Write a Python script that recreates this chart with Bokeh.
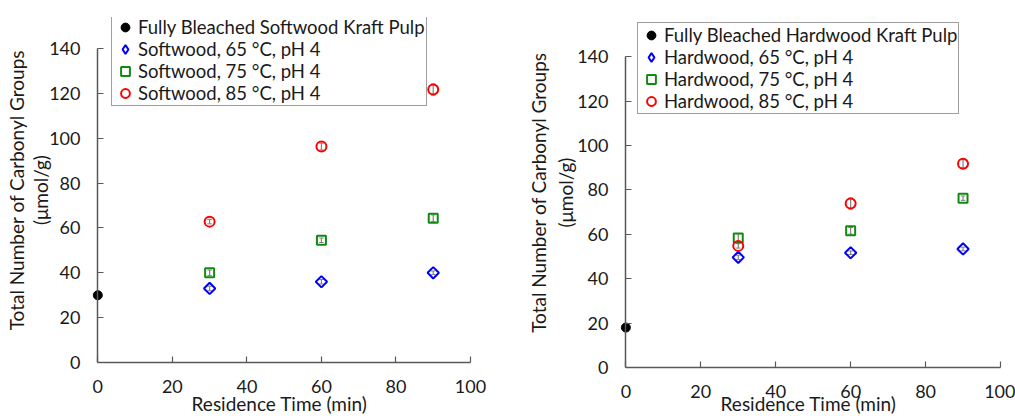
from bokeh.plotting import figure
from bokeh.models import (Range1d, FixedTicker, Legend, LegendItem, ColumnDataSource,
                          LinearAxis)
from bokeh.layouts import row
from bokeh.embed import file_html
from bokeh.resources import INLINE
import math

# ---- data ----
times = [30, 60, 90]
xticks = [0, 20, 40, 60, 80, 100]
yticks = [0, 20, 40, 60, 80, 100, 120, 140]

sw_base = 30
sw_65 = [33, 36, 40]
sw_75 = [40, 54.5, 64.3]
sw_85 = [62.8, 96.3, 121.7]
sw_65_err = [1.0, 1.0, 0.8]
sw_75_err = [1.2, 1.0, 1.5]
sw_85_err = [1.0, 1.5, 2.5]

hw_base = 18
hw_65 = [49.6, 51.7, 53.4]
hw_75 = [58.3, 61.6, 76.3]
hw_85 = [54.8, 73.9, 91.8]
hw_65_err = [1.0, 0.8, 0.8]
hw_75_err = [2.0, 1.5, 1.0]
hw_85_err = [1.0, 2.5, 1.8]

sw_labels = ["Fully Bleached Softwood Kraft Pulp", "Softwood, 65 °C, pH 4",
             "Softwood, 75 °C, pH 4", "Softwood, 85 °C, pH 4"]
hw_labels = ["Fully Bleached Hardwood Kraft Pulp", "Hardwood, 65 °C, pH 4",
             "Hardwood, 75 °C, pH 4", "Hardwood, 85 °C, pH 4"]
ylabel_1 = "Total Number of Carbonyl Groups"
ylabel_2 = "(μmol/g)"
xlabel = "Residence Time (min)"

FONT = "Lato"
AX = "#595959"
TXT = "#1a1a1a"
FS = "19px"
TFS = "18px"


def make_panel(base, s65, s75, s85, e65, e75, e85, labels, xmin, ymax,
               bl, fw, br, bt, fh, bb, leg_x, leg_y, ystand, y2stand, y1stand, xlstand):
    p = figure(output_backend="svg", toolbar_location=None, title=None,
               frame_width=fw, frame_height=fh,
               min_border_left=bl, min_border_right=br,
               min_border_top=bt, min_border_bottom=bb,
               x_range=Range1d(xmin, 100), y_range=Range1d(0, ymax))
    p.width = bl + fw + br
    p.height = bt + fh + bb
    p.outline_line_color = None
    p.grid.visible = False
    p.background_fill_color = "white"
    p.border_fill_color = "white"

    xa = p.xaxis[0]
    ya = p.yaxis[0]
    for ax in (xa, ya):
        ax.axis_line_color = AX
        ax.axis_line_width = 1.5
        ax.major_tick_line_color = AX
        ax.major_tick_line_width = 1.2
        ax.major_tick_in = 6
        ax.major_tick_out = 0
        ax.minor_tick_line_color = None
        ax.major_label_text_font = FONT
        ax.major_label_text_font_size = TFS
        ax.major_label_text_color = TXT
        ax.axis_label_text_font = FONT
        ax.axis_label_text_font_size = FS
        ax.axis_label_text_font_style = "normal"
        ax.axis_label_text_color = TXT
    xa.ticker = FixedTicker(ticks=xticks)
    ya.ticker = FixedTicker(ticks=yticks)
    xa.bounds = (0, 100)
    ya.bounds = (0, 140)
    ya.fixed_location = 0          # y axis line & ticks at x = 0
    ya.major_label_text_font_size = "1px"
    ya.major_label_text_color = None
    ya.major_label_standoff = 0
    xa.major_label_standoff = 17
    xa.axis_label = xlabel
    xa.axis_label_standoff = xlstand

    # tick labels + second title line
    lab_ax = LinearAxis(ticker=FixedTicker(ticks=yticks), axis_label=ylabel_2,
                        axis_line_color=None, major_tick_line_color=None,
                        minor_tick_line_color=None, major_tick_in=0, major_tick_out=0,
                        major_label_text_font=FONT, major_label_text_font_size=TFS,
                        major_label_text_color=TXT, major_label_standoff=ystand,
                        axis_label_text_font=FONT, axis_label_text_font_size=FS,
                        axis_label_text_font_style="normal", axis_label_text_color=TXT,
                        axis_label_standoff=y2stand)
    p.add_layout(lab_ax, "left")
    outer = LinearAxis(ticker=FixedTicker(ticks=[]), axis_label=ylabel_1,
                       axis_line_color=None, major_tick_line_color=None,
                       major_tick_in=0, major_tick_out=0,
                       minor_tick_line_color=None, major_label_text_font_size="1px",
                       axis_label_text_font=FONT, axis_label_text_font_size=FS,
                       axis_label_text_font_style="normal", axis_label_text_color=TXT,
                       axis_label_standoff=y1stand)
    p.add_layout(outer, "left")

    # error bars
    for vals, errs in ((s65, e65), (s75, e75), (s85, e85)):
        lo = [v - e for v, e in zip(vals, errs)]
        hi = [v + e for v, e in zip(vals, errs)]
        src = ColumnDataSource(dict(x=times, x0=[t - 0.6 for t in times],
                                    x1=[t + 0.6 for t in times], lo=lo, hi=hi))
        p.segment(x0="x", y0="lo", x1="x", y1="hi", source=src, line_color="#808080", line_width=1.2)
        p.segment(x0="x0", y0="lo", x1="x1", y1="lo", source=src, line_color="#808080", line_width=1)
        p.segment(x0="x0", y0="hi", x1="x1", y1="hi", source=src, line_color="#808080", line_width=1)

    r0 = p.scatter([0], [base], marker="circle", size=9, fill_color="black", line_color="black")
    s65_src = ColumnDataSource(dict(x=times, y=s65))
    r1 = p.scatter("x", "y", source=s65_src, marker="square", angle=math.pi / 4, size=8,
                   fill_color=None, line_color="#0000FF", line_width=2)
    # same series as a diamond glyph, not shown on the plot, supplies the legend symbol
    r1_leg = p.scatter("x", "y", source=s65_src, visible=False,
                       marker="diamond", size=12, fill_color=None, line_color="#0000FF", line_width=2)
    r2 = p.scatter(times, s75, marker="square", size=9, fill_color=None, line_color="#108A10", line_width=2)
    r3 = p.scatter(times, s85, marker="circle", size=10, fill_color=None, line_color="#FF0000", line_width=2)

    leg = Legend(items=[LegendItem(label=labels[0], renderers=[r0]),
                        LegendItem(label=labels[1], renderers=[r1_leg]),
                        LegendItem(label=labels[2], renderers=[r2]),
                        LegendItem(label=labels[3], renderers=[r3])],
                 location=(leg_x, leg_y))
    leg.label_text_font = FONT
    leg.label_text_font_size = "18.5px"
    leg.label_text_color = TXT
    leg.border_line_color = "#404040"
    leg.border_line_width = 1.5
    leg.background_fill_alpha = 1
    leg.inactive_fill_alpha = 0
    leg.spacing = 0
    leg.padding = 1
    leg.margin = 0
    leg.glyph_width = 24
    leg.glyph_height = 22
    leg.label_standoff = 1
    leg.label_height = 22
    p.add_layout(leg, "center")
    return p


# left: axis x=0 at px 97.7, y=0 at 360; 2.243 px/unit y, 3.73 px/unit x
pl = make_panel(sw_base, sw_65, sw_75, sw_85, sw_65_err, sw_75_err, sw_85_err, sw_labels,
                xmin=-2.5, ymax=153.8,
                bl=88, fw=382, br=37, bt=15, fh=345, bb=56,
                leg_x=23, leg_y=256, ystand=8, y2stand=-6, y1stand=-1, xlstand=-4)
# right: axis x=0 at px 625, y=0 at 367
pr = make_panel(hw_base, hw_65, hw_75, hw_85, hw_65_err, hw_75_err, hw_85_err, hw_labels,
                xmin=-2.5, ymax=157.7,
                bl=109, fw=384, br=15, bt=17, fh=350, bb=49,
                leg_x=21, leg_y=253, ystand=8, y2stand=-3, y1stand=2, xlstand=-9)

layout = row(pl, pr, spacing=0)
open("out.html", "w").write(file_html(layout, INLINE))
